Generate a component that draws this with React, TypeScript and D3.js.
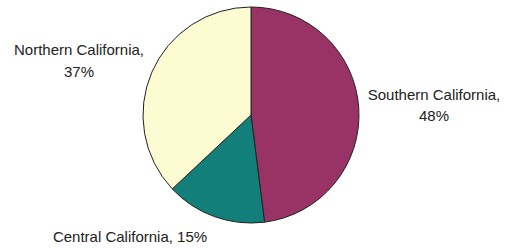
import React from "react";
import * as d3 from "d3";

const categories = ["Southern California", "Central California", "Northern California"];
const values = [48, 15, 37];
const colors = ["#993366", "#137f7a", "#fdfbd2"];

export default function App() {
  const width = 505, height = 248;
  const cx = 251, cy = 115, r = 108;
  const pie = d3.pie<number>().sort(null).value((d) => d);
  const arcs = pie(values);
  const arc = d3.arc<d3.PieArcDatum<number>>().innerRadius(0).outerRadius(r);
  const font = "'Liberation Sans', Arial, sans-serif";
  return (
    <svg width={width} height={height} style={{ position: "absolute", left: 0, top: 0, background: "#fff" }}>
      <g transform={`translate(${cx},${cy})`}>
        {arcs.map((a, i) => (
          <path key={i} d={arc(a) || ""} fill={colors[i]} stroke="#222" strokeWidth={1} />
        ))}
      </g>
      <g fontFamily={font} fontSize={15} fill="#222" textAnchor="middle">
        <text x={79} y={55}>{`${categories[2]},`}</text>
        <text x={79} y={77}>{`${values[2]}%`}</text>
        <text x={434} y={100}>{`${categories[0]},`}</text>
        <text x={434} y={121}>{`${values[0]}%`}</text>
        <text x={130} y={242}>{`${categories[1]}, ${values[1]}%`}</text>
      </g>
    </svg>
  );
}
